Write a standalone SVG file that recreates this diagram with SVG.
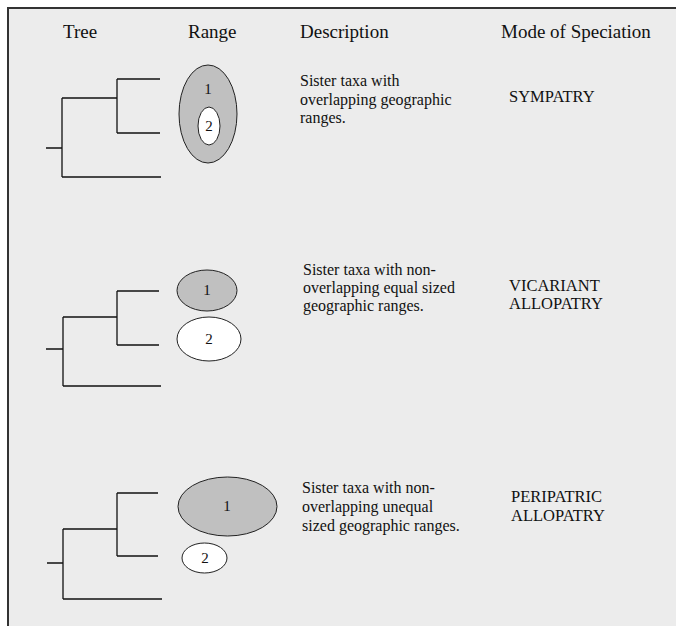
<svg xmlns="http://www.w3.org/2000/svg" width="676" height="626" viewBox="0 0 676 626">
<style>
.hdr{font-family:"Liberation Serif","Times New Roman",serif;font-size:19px;fill:#111}
.txt{font-family:"Liberation Serif","Times New Roman",serif;font-size:16px;fill:#111}
.mode{font-family:"Liberation Serif","Times New Roman",serif;font-size:16.5px;fill:#111}
.lbl{font-family:"Liberation Serif","Times New Roman",serif;font-size:15px;fill:#111;text-anchor:middle}
.tree{fill:none;stroke:#111;stroke-width:1.3}
.g{fill:#c0c0c0;stroke:#222;stroke-width:1}
.w{fill:#fff;stroke:#222;stroke-width:1}
</style>
<rect x="0" y="0" width="676" height="626" fill="#fff"/>
<rect x="8" y="8" width="668" height="618" fill="#ececec"/>
<path d="M8,626 V8 H676" fill="none" stroke="#333" stroke-width="2"/>
<g id="headers">
<text class="hdr" x="63" y="38">Tree</text>
<text class="hdr" x="188" y="38">Range</text>
<text class="hdr" x="300" y="38">Description</text>
<text class="hdr" x="501" y="38">Mode of Speciation</text>
</g>
<g id="connectors">
<path class="tree" d="M46,148 H62 M62,98 V177 M62,98 H117 M117,79 V133 M117,79 H160 M117,133 H160 M62,177 H161"/>
<path class="tree" d="M46,349 H63 M63,317 V386 M63,317 H117 M117,291 V345 M117,291 H159 M117,345 H159 M63,386 H161"/>
<path class="tree" d="M47,563 H63 M63,529 V599 M63,529 H117 M117,493 V556 M117,493 H158 M117,556 H158 M63,599 H162"/>
</g>
<g id="range1">
<ellipse class="g" cx="208" cy="114" rx="29" ry="49"/>
<ellipse class="w" cx="209" cy="126" rx="11" ry="19"/>
<text class="lbl" x="208" y="94">1</text>
<text class="lbl" x="209" y="131">2</text>
</g>
<g id="range2">
<ellipse class="g" cx="207" cy="290.5" rx="30" ry="20.5"/>
<ellipse class="w" cx="209" cy="339" rx="32" ry="22"/>
<text class="lbl" x="207" y="295">1</text>
<text class="lbl" x="209" y="344">2</text>
</g>
<g id="range3">
<ellipse class="g" cx="227.5" cy="506.5" rx="49.5" ry="29.5"/>
<ellipse class="w" cx="204.5" cy="558" rx="22.5" ry="15"/>
<text class="lbl" x="227" y="511">1</text>
<text class="lbl" x="205" y="563">2</text>
</g>
<g id="desc1">
<text class="txt"><tspan x="300" y="86">Sister taxa with</tspan><tspan x="300" y="104.5">overlapping geographic</tspan><tspan x="300" y="123">ranges.</tspan></text>
</g>
<g id="desc2">
<text class="txt"><tspan x="303" y="275">Sister taxa with non-</tspan><tspan x="303" y="293">overlapping equal sized</tspan><tspan x="303" y="311">geographic ranges.</tspan></text>
</g>
<g id="desc3">
<text class="txt"><tspan x="302" y="493">Sister taxa with non-</tspan><tspan x="302" y="512">overlapping unequal</tspan><tspan x="302" y="531">sized geographic ranges.</tspan></text>
</g>
<g id="mode1"><text class="mode" x="509" y="102">SYMPATRY</text></g>
<g id="mode2"><text class="mode" x="509" y="291">VICARIANT</text><text class="mode" x="509" y="309">ALLOPATRY</text></g>
<g id="mode3"><text class="mode" x="511" y="502">PERIPATRIC</text><text class="mode" x="511" y="521">ALLOPATRY</text></g>
</svg>
